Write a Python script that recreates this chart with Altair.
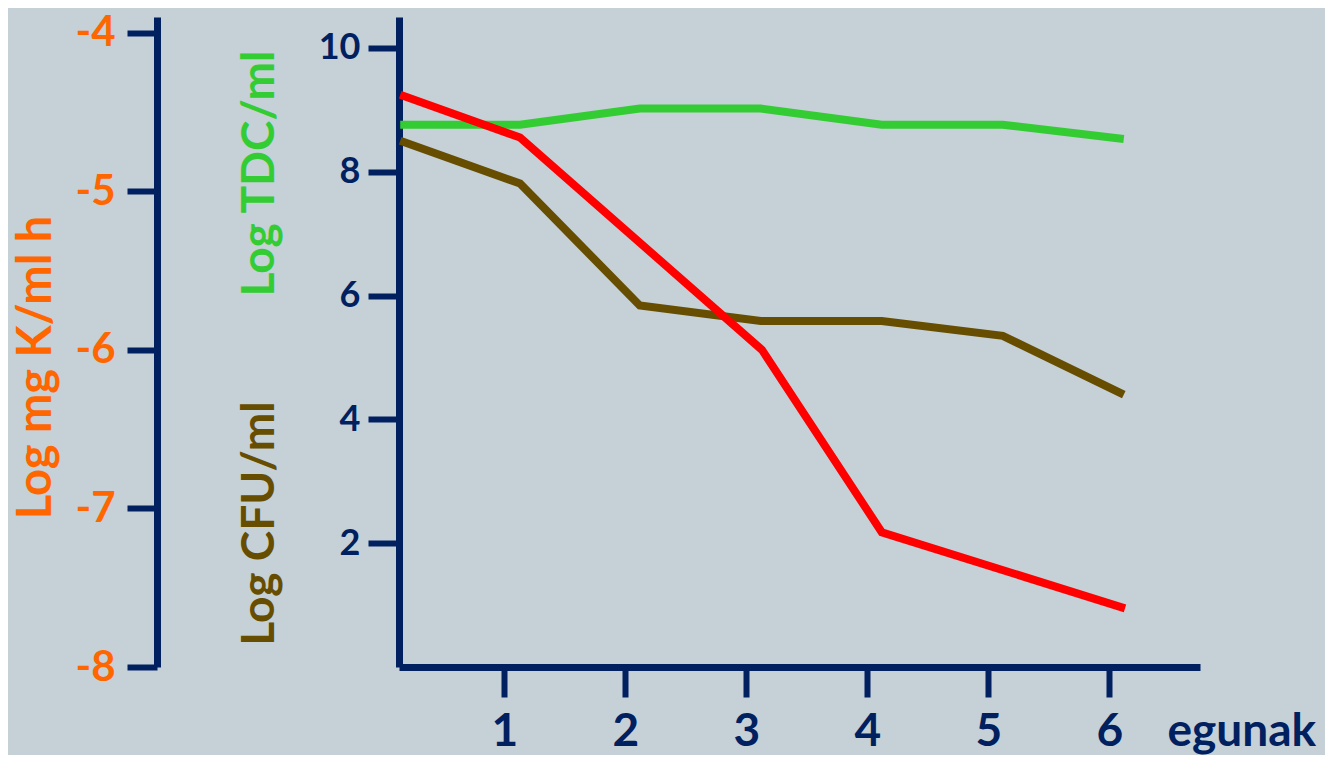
import altair as alt
import pandas as pd

# --- data ---
days = [0.14, 1.13, 2.12, 3.12, 4.12, 5.12, 6.12]
log_cfu = [8.50, 7.81, 5.84, 5.59, 5.59, 5.35, 4.40]   # brown, left main axis
log_tdc = [8.76, 8.76, 9.02, 9.02, 8.76, 8.76, 8.53]   # green, left main axis
k_days = [0.14, 1.13, 3.13, 4.12, 6.13]
log_k = [-4.39, -4.66, -6.00, -7.15, -7.63]            # red, orange axis

x_ticks = [1, 2, 3, 4, 5, 6]
main_ticks = [2, 4, 6, 8, 10]
k_ticks = [-8, -7, -6, -5, -4]

NAVY = "#002060"
ORANGE = "#FF6600"
GREEN = "#33CC33"
BROWN = "#664D00"
RED = "#FF0000"
BG = "#C5D0D7"
FONT = "Lato"

df_cfu = pd.DataFrame({"day": days, "v": log_cfu})
df_tdc = pd.DataFrame({"day": days, "v": log_tdc})
df_k = pd.DataFrame({"day": k_days, "v": log_k})

x_axis = alt.Axis(
    values=x_ticks, grid=False, domainColor=NAVY, domainWidth=7,
    tickColor=NAVY, tickWidth=6, tickSize=30,
    labelFont=FONT, labelFontSize=46, labelFontWeight="bold", labelColor=NAVY,
    labelBaseline="alphabetic", labelPadding=48, labelFlush=False,
    title="egunak", titleFont=FONT, titleFontSize=46, titleFontWeight="bold",
    titleColor=NAVY, titleX=768, titleY=78, titleAlign="left",
    titleBaseline="alphabetic", titleAngle=0,
)
x_enc = alt.X("day:Q", scale=alt.Scale(domain=[0.13, 6.75], nice=False, zero=False), axis=x_axis)

main_scale = alt.Scale(domain=[0, 10.5], nice=False, zero=False)

cfu = alt.Chart(df_cfu).mark_line(color=BROWN, strokeWidth=8).encode(
    x=x_enc,
    y=alt.Y("v:Q", scale=main_scale, axis=alt.Axis(
        orient="left", values=main_ticks, grid=False,
        domainColor=NAVY, domainWidth=7, tickColor=NAVY, tickWidth=6, tickSize=31,
        labelFont=FONT, labelFontSize=36, labelFontWeight="bold", labelColor=NAVY,
        labelPadding=8,
        title="Log CFU/ml", titleFont=FONT, titleFontSize=46, titleFontWeight="bold",
        titleColor=BROWN, titleAngle=-90, titleX=-126, titleY=506,
        titleAlign="center", titleBaseline="alphabetic",
    )),
)

tdc = alt.Chart(df_tdc).mark_line(color=GREEN, strokeWidth=8).encode(
    x=x_enc,
    y=alt.Y("v:Q", scale=main_scale, axis=alt.Axis(
        orient="left", grid=False, domain=False, ticks=False, labels=False,
        title="Log TDC/ml", titleFont=FONT, titleFontSize=46, titleFontWeight="bold",
        titleColor=GREEN, titleAngle=-90, titleX=-126, titleY=156,
        titleAlign="center", titleBaseline="alphabetic",
    )),
)

kline = alt.Chart(df_k).mark_line(color=RED, strokeWidth=8).encode(
    x=x_enc,
    y=alt.Y("v:Q", scale=alt.Scale(domain=[-8, -3.9], nice=False, zero=False), axis=alt.Axis(
        orient="left", offset=242, values=k_ticks, grid=False,
        domainColor=NAVY, domainWidth=7, tickColor=NAVY, tickWidth=6, tickSize=30,
        labelFont=FONT, labelFontSize=42, labelFontWeight="bold", labelColor=ORANGE,
        labelPadding=12, labelExpr="'-' + abs(datum.value)",
        title="Log mg K/ml h", titleFont=FONT, titleFontSize=47, titleFontWeight="bold",
        titleColor=ORANGE, titleAngle=-90, titleX=-107, titleY=350,
        titleAlign="center", titleBaseline="alphabetic",
    )),
)

chart = (
    alt.layer(cfu, tdc, kline)
    .resolve_scale(y="independent")
    .properties(
        width=801, height=650,
        autosize=alt.AutoSizeParams(type="none"),
        padding={"left": 391, "top": 9, "right": 125, "bottom": 88},
        background=BG,
    )
    .configure_view(stroke=None)
)

chart.save("out.html", embed_options={"renderer": "svg", "actions": False})
